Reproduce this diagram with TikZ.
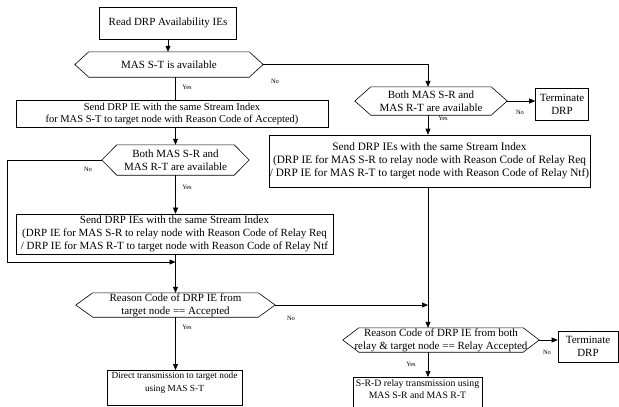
\documentclass[tikz,border=0pt]{standalone}
\usepackage{fontspec}
\setmainfont{Liberation Serif}
\usetikzlibrary{arrows.meta}
\tikzset{
  box/.style={draw, line width=0.6pt, rectangle, align=center, inner xsep=1pt, inner ysep=2pt, font=\fontsize{11}{13}\selectfont},
  hexn/.style={rectangle, align=center, inner sep=0pt, font=\fontsize{11}{13}\selectfont},
  arr/.style={line width=0.6pt, -{Triangle[length=6pt,width=5pt]}},
  conn/.style={line width=0.6pt},
  lbl/.style={font=\fontsize{6.5}{7}\selectfont, inner sep=0pt},
}
\newcommand{\hexframe}[2]{\draw[line width=0.6pt] (#1.west) -- ([xshift=#2]#1.north west) -- ([xshift=-#2]#1.north east) -- (#1.east) -- ([xshift=-#2]#1.south east) -- ([xshift=#2]#1.south west) -- cycle;}
\begin{document}
\begin{tikzpicture}[x=1pt,y=-1pt]
\path[use as bounding box, clip] (0,0) rectangle (619,407);
\fill[white] (0,0) rectangle (619,407);
\coordinate (rc) at (428,0);
\coordinate (lx) at (7,0);
\coordinate (lj) at (175.5,262);

% left column
\node[box, minimum width=137, minimum height=32] (read) at (168,23) {Read DRP Availability IEs};
\node[hexn, minimum width=188, minimum height=25] (d1) at (169,64.5) {MAS S-T is available};
\hexframe{d1}{14pt}
\node[box, minimum width=312, minimum height=27, font=\fontsize{10.5}{12.5}\selectfont] (s1) at (172,114) {Send DRP IE with the same Stream Index\\for MAS S-T to target node with Reason Code of Accepted)};
\node[hexn, minimum width=147, minimum height=30] (d3) at (175.5,160) {Both MAS S-R and\\MAS R-T are available};
\hexframe{d3}{15pt}
\node[box, minimum width=317, minimum height=40] (s2) at (174.5,234) {Send DRP IEs with the same Stream Index\\(DRP IE for MAS S-R to relay node with Reason Code of Relay Req\\/ DRP IE for MAS R-T to target node with Reason Code of Relay Ntf};
\node[hexn, minimum width=199, minimum height=24] (d4) at (175.5,305) {Reason Code of DRP IE from\\target node == Accepted};
\hexframe{d4}{17pt}
\node[box, anchor=north, minimum width=135, font=\fontsize{9.3}{12.5}\selectfont] (direct) at (174.5,370) {Direct transmission to target node\\using MAS S-T\\ \mbox{}};

% right column
\node[hexn, minimum width=152, minimum height=28] (d2) at (431,101) {Both MAS S-R and\\MAS R-T are available};
\hexframe{d2}{16pt}
\node[box, minimum width=53, minimum height=32] (t1) at (562,104) {Terminate\\DRP};
\node[box, minimum width=315, minimum height=52, font=\fontsize{11.3}{13.2}\selectfont] (rs) at (429.5,161) {Send DRP IEs with the same Stream Index\\(DRP IE for MAS S-R to relay node with Reason Code of Relay Req\\/ DRP IE for MAS R-T to target node with Reason Code of Relay Ntf)};
\node[hexn, minimum width=196, minimum height=24] (d5) at (441,340) {Reason Code of DRP IE from both\\relay \& target node == Relay Accepted};
\hexframe{d5}{16pt}
\node[box, minimum width=60, minimum height=31] (t2) at (588,346.5) {Terminate\\DRP};
\node[box, anchor=north, minimum width=129, font=\fontsize{9.8}{12.8}\selectfont] (srd) at (417.5,377) {S-R-D relay transmission using\\MAS S-R and MAS R-T\\ \mbox{}};

% connectors
\draw[arr] (read.south) -- (read.south |- d1.north);
\draw[arr] (d1.east) -- (d1.east -| rc) -- (rc |- d2.north);
\draw[conn] (d1.south -| d3.north) -- (d3.north |- s1.north);
\draw[arr] (s1.south -| d3.north) -- (d3.north);
\draw[arr] (d3.south) -- (d3.south |- s2.north);
\draw[arr] (d3.west) -- (d3.west -| lx) |- (lj);
\draw[arr] (s2.south -| d4.north) -- (d4.north);
\draw[arr] (d4.south) -- (d4.south |- direct.north);
\draw[arr] (d2.east) -- (d2.east -| t1.west);
\draw[arr] (d2.south -| rc) -- (rc |- rs.north);
\draw[arr] (rs.south -| rc) -- (rc |- d5.north);
\draw[arr] (d4.east) -- (d4.east -| rc);
\draw[arr] (d5.east) -- (d5.east -| t2.west);
\draw[arr] (d5.south -| rc) -- (rc |- srd.north);

% labels
\node[lbl] (n1) at (275,81) {No};
\node[lbl] (y1) at (187,87) {Yes};
\node[lbl] (n2) at (520,112) {No};
\node[lbl] (y2) at (443,118) {Yes};
\node[lbl] (n3) at (88,169) {No};
\node[lbl] (y3) at (187,187) {Yes};
\node[lbl] (n4) at (291,318) {No};
\node[lbl] (y4) at (187,327) {Yes};
\node[lbl] (n5) at (547,352) {No};
\node[lbl] (y5) at (411,364) {Yes};
\end{tikzpicture}
\end{document}
